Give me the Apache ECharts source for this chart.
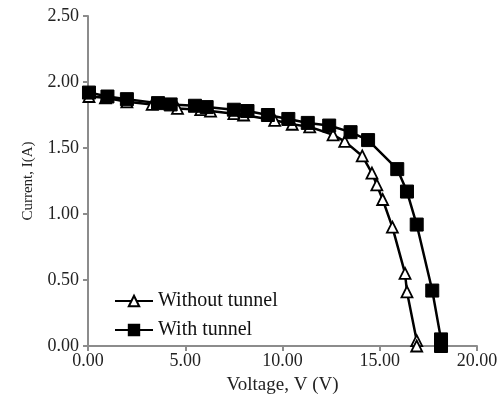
<!DOCTYPE html>
<html>
<head>
<meta charset="utf-8">
<script src="https://cdn.jsdelivr.net/npm/echarts@6/dist/echarts.min.js"></script>
<style>
  html, body { margin: 0; padding: 0; background: #fff; }
  #chart { width: 504px; height: 402px; }
</style>
</head>
<body>
<div id="chart"></div>
<script>
// 不带隧道 (电压 V, 电流 A)
const withoutTunnel = [
  [0.05, 1.89], [0.9, 1.88], [2.0, 1.85], [3.3, 1.83], [4.6, 1.80],
  [5.8, 1.79], [6.3, 1.78], [7.5, 1.76], [8.0, 1.75], [9.6, 1.71],
  [10.5, 1.68], [11.4, 1.66], [12.6, 1.60], [13.2, 1.55], [14.1, 1.44],
  [14.6, 1.31], [14.85, 1.22], [15.15, 1.11], [15.65, 0.90], [16.3, 0.55],
  [16.4, 0.41], [16.9, 0.04], [16.9, 0.0]
];
// 带隧道
const withTunnel = [
  [0.05, 1.92], [1.0, 1.89], [2.0, 1.87], [3.6, 1.84], [4.25, 1.83],
  [5.5, 1.82], [6.1, 1.81], [7.5, 1.79], [8.2, 1.78], [9.25, 1.75],
  [10.3, 1.72], [11.3, 1.69], [12.4, 1.67], [13.5, 1.62], [14.4, 1.56],
  [15.9, 1.34], [16.4, 1.17], [16.9, 0.92], [17.7, 0.42], [18.15, 0.05],
  [18.15, 0.0]
];
const seriesNames = ['Without tunnel', 'With tunnel'];

const serif = '"Liberation Serif", "DejaVu Serif", serif';
const axisColor = '#8c8c8c';

const chart = echarts.init(document.getElementById('chart'));

const option = {
  animation: false,
  backgroundColor: '#fff',
  grid: { left: 88, right: 27, top: 16, bottom: 56 },
  legend: {
    orient: 'vertical',
    left: 109,
    top: 286,
    itemWidth: 38,
    itemHeight: 13,
    itemGap: 9,
    textStyle: { fontFamily: serif, fontSize: 20, color: '#111' },
    data: seriesNames
  },
  xAxis: {
    type: 'value',
    min: 0,
    max: 20,
    interval: 5,
    name: 'Voltage, V (V)',
    nameLocation: 'middle',
    nameGap: 30,
    nameTextStyle: { fontFamily: serif, fontSize: 19, color: '#222' },
    axisLine: { lineStyle: { color: axisColor, width: 2 } },
    axisTick: { show: true, length: 5, lineStyle: { color: axisColor, width: 2 } },
    axisLabel: {
      margin: 6,
      fontFamily: serif, fontSize: 18, color: '#222',
      formatter: v => v.toFixed(2)
    },
    splitLine: { show: false }
  },
  yAxis: {
    type: 'value',
    min: 0,
    max: 2.5,
    interval: 0.5,
    name: 'Current, I(A)',
    nameLocation: 'middle',
    nameGap: 52,
    nameTextStyle: { fontFamily: serif, fontSize: 15, color: '#222' },
    axisLine: { show: true, lineStyle: { color: axisColor, width: 2 } },
    axisTick: { show: true, length: 5, lineStyle: { color: axisColor, width: 2 } },
    axisLabel: {
      margin: 9,
      fontFamily: serif, fontSize: 18, color: '#222',
      formatter: v => v.toFixed(2)
    },
    splitLine: { show: false }
  },
  series: [
    {
      name: seriesNames[0],
      type: 'line',
      data: withoutTunnel,
      symbol: 'triangle',
      symbolSize: 11,
      showAllSymbol: true,
      itemStyle: { color: '#fff', borderColor: '#000', borderWidth: 1.8 },
      lineStyle: { color: '#000', width: 2.5 },
      z: 2
    },
    {
      name: seriesNames[1],
      type: 'line',
      data: withTunnel,
      symbol: 'rect',
      symbolSize: 13,
      showAllSymbol: true,
      itemStyle: { color: '#000', borderColor: '#000', borderWidth: 1 },
      lineStyle: { color: '#000', width: 2.5 },
      z: 3
    }
  ]
};

chart.setOption(option);
</script>
</body>
</html>
